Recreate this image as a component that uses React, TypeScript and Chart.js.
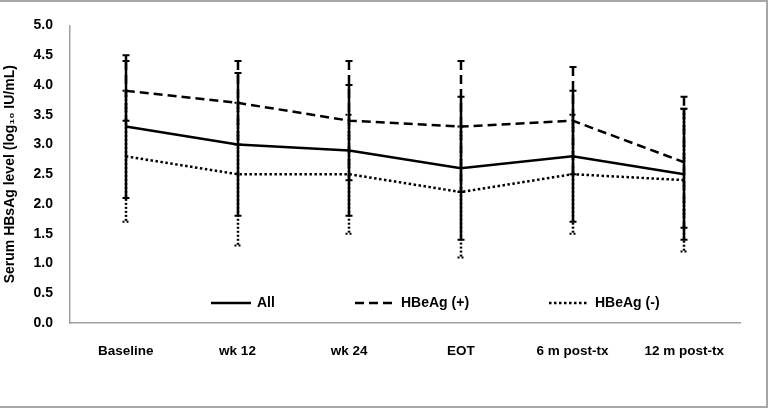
import React, { useEffect, useRef } from "react";
import { Chart, registerables } from "chart.js";

Chart.register(...registerables);

// ---- data ----
const categories = ["Baseline", "wk 12", "wk 24", "EOT", "6 m post-tx", "12 m post-tx"];
const seriesLabels = ["All", "HBeAg (+)", "HBeAg (-)"];
const allMean = [3.3, 3.0, 2.9, 2.6, 2.8, 2.5];
const allErr = [1.2, 1.2, 1.1, 1.2, 1.1, 1.1];
const posMean = [3.9, 3.7, 3.4, 3.3, 3.4, 2.7];
const posErr = [0.5, 0.7, 1.0, 1.1, 0.9, 1.1];
const negMean = [2.8, 2.5, 2.5, 2.2, 2.5, 2.4];
const negErr = [1.1, 1.2, 1.0, 1.1, 1.0, 1.2];
const yMin = 0;
const yMax = 5;
const yStep = 0.5;
const yTitle = "Serum HBsAg level (log\u2081\u2080 IU/mL)";

// ---- styles ----
const FONT = "'Liberation Sans', Arial, sans-serif";
const dashes: number[][] = [[], [9, 5], [2.5, 2.5]];
const widths = [2.5, 2.5, 2.5];
const errors = [allErr, posErr, negErr];
const legendStartX = [211, 355, 549];
const legendY = 303;

const errorBarPlugin = {
  id: "errorBars",
  beforeDatasetsDraw(chart: any) {
    const ctx = chart.ctx;
    const xs = chart.scales.x;
    const ys = chart.scales.y;
    [2, 1, 0].forEach((di) => {
      const ds = chart.data.datasets[di];
      const errs = errors[di];
      ctx.save();
      ctx.strokeStyle = "#000";
      ctx.lineWidth = 2.5;
      (ds.data as number[]).forEach((v, i) => {
        const px = Math.round(xs.getPixelForValue(i));
        const top = ys.getPixelForValue(v + errs[i]);
        const bot = ys.getPixelForValue(v - errs[i]);
        ctx.setLineDash(di === 2 ? [2, 2] : dashes[di]);
        ctx.beginPath();
        ctx.moveTo(px, top);
        ctx.lineTo(px, bot);
        ctx.stroke();
        ctx.lineWidth = 2;
        ctx.setLineDash(di === 2 ? [2, 2] : []);
        ctx.beginPath();
        ctx.moveTo(px - 3.5, top);
        ctx.lineTo(px + 3.5, top);
        ctx.moveTo(px - 3.5, bot);
        ctx.lineTo(px + 3.5, bot);
        ctx.stroke();
        ctx.lineWidth = 2.5;
      });
      ctx.restore();
    });
  },
};

const legendPlugin = {
  id: "innerLegend",
  afterDraw(chart: any) {
    const ctx = chart.ctx;
    ctx.save();
    chart.data.datasets.forEach((ds: any, i: number) => {
      const x0 = legendStartX[i];
      ctx.strokeStyle = "#000";
      ctx.lineWidth = widths[i];
      ctx.setLineDash(dashes[i]);
      ctx.beginPath();
      ctx.moveTo(x0, legendY);
      ctx.lineTo(x0 + 40, legendY);
      ctx.stroke();
      ctx.setLineDash([]);
      ctx.fillStyle = "#000";
      ctx.font = `bold 14px ${FONT}`;
      ctx.textBaseline = "middle";
      ctx.textAlign = "left";
      ctx.fillText(ds.label, x0 + 46, legendY);
    });
    ctx.restore();
  },
};

export default function App() {
  const ref = useRef<HTMLCanvasElement | null>(null);

  useEffect(() => {
    if (!ref.current) return;
    const means = [allMean, posMean, negMean];
    const chart = new Chart(ref.current, {
      type: "line",
      data: {
        labels: categories,
        datasets: seriesLabels.map((label, i) => ({
          label,
          data: means[i],
          borderColor: "#000",
          backgroundColor: "#000",
          borderWidth: widths[i],
          borderDash: dashes[i],
          pointRadius: 0,
          tension: 0,
          fill: false,
        })),
      },
      options: {
        responsive: false,
        animation: false,
        devicePixelRatio: 1,
        layout: { padding: { top: 23, right: 31, left: 0, bottom: 0 } },
        plugins: {
          legend: { display: false },
          tooltip: { enabled: false },
        },
        scales: {
          x: {
            type: "category",
            offset: true,
            grid: { display: false, drawTicks: false },
            border: { display: true, color: "#a0a0a0", width: 1.5 },
            ticks: {
              color: "#000",
              padding: 20,
              maxRotation: 0,
              autoSkip: false,
              font: { family: FONT, size: 13.5, weight: "bold" },
            },
            afterFit(scale: any) {
              scale.height = 85;
            },
          },
          y: {
            min: yMin,
            max: yMax,
            grid: { display: false, drawTicks: false },
            border: { display: true, color: "#a0a0a0", width: 1.5 },
            ticks: {
              stepSize: yStep,
              color: "#000",
              padding: 17,
              font: { family: FONT, size: 14, weight: "bold" },
              callback: (v: any) => Number(v).toFixed(1),
            },
            title: {
              display: true,
              text: yTitle,
              color: "#000",
              padding: { top: 2, bottom: 0 },
              font: { family: FONT, size: 14, weight: "bold" },
            },
            afterFit(scale: any) {
              scale.width = 70;
            },
          },
        },
      },
      plugins: [errorBarPlugin, legendPlugin],
    });
    return () => chart.destroy();
  }, []);

  return (
    <div style={{ position: "absolute", left: 0, top: 0, width: 771, height: 408, background: "#fff", overflow: "hidden" }}>
      <canvas ref={ref} width={771} height={408} style={{ position: "absolute", left: 0, top: 0 }} />
      <div
        style={{
          position: "absolute",
          left: -3,
          top: 0,
          width: 771,
          height: 408,
          boxSizing: "border-box",
          border: "2px solid #a6a6a6",
          pointerEvents: "none",
        }}
      />
    </div>
  );
}
